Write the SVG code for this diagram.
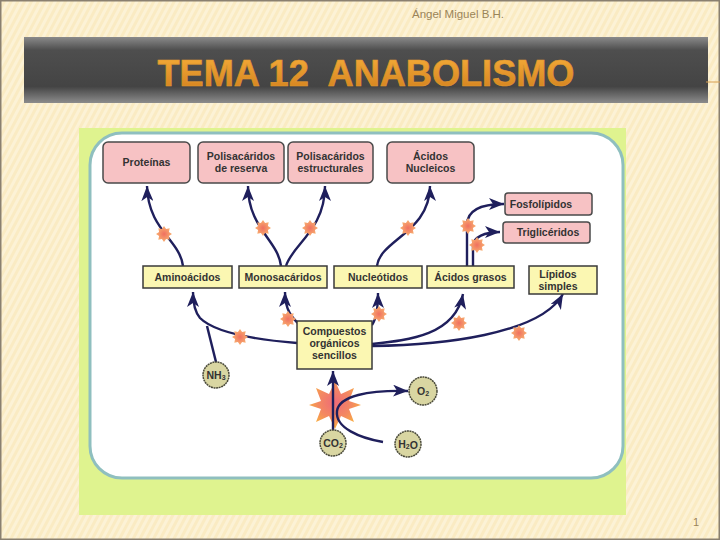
<svg xmlns="http://www.w3.org/2000/svg" width="720" height="540" viewBox="0 0 720 540">
<defs>
<pattern id="stripes" width="6" height="10" patternUnits="userSpaceOnUse" patternTransform="rotate(28)">
<rect width="6" height="10" fill="#faebc3"/>
<rect width="3" height="10" fill="#fcf2d6"/>
</pattern>
<linearGradient id="bar" x1="0" y1="0" x2="0" y2="1">
<stop offset="0" stop-color="#8a8a8a"/>
<stop offset="0.2" stop-color="#4e4e4e"/>
<stop offset="0.75" stop-color="#444"/>
<stop offset="1" stop-color="#8c8c8c"/>
</linearGradient>
<linearGradient id="titleg" x1="0" y1="0" x2="0" y2="1">
<stop offset="0" stop-color="#f7ae3a"/>
<stop offset="1" stop-color="#d07e1c"/>
</linearGradient>
<radialGradient id="bigstar" cx="0.5" cy="0.45" r="0.55">
<stop offset="0" stop-color="#ee6a78"/>
<stop offset="0.6" stop-color="#f48a60"/>
<stop offset="1" stop-color="#f8b040"/>
</radialGradient>
<radialGradient id="smstar" cx="0.5" cy="0.5" r="0.5">
<stop offset="0" stop-color="#f07060"/>
<stop offset="1" stop-color="#f8b070"/>
</radialGradient>
<polygon id="star" points="0,-8 2.1,-4.9 5.7,-5.7 4.9,-2.1 8,0 4.9,2.1 5.7,5.7 2.1,4.9 0,8 -2.1,4.9 -5.7,5.7 -4.9,2.1 -8,0 -4.9,-2.1 -5.7,-5.7 -2.1,-4.9" fill="url(#smstar)"/>
<marker id="ah" markerUnits="userSpaceOnUse" markerWidth="16" markerHeight="12" viewBox="0 0 16 12" refX="15" refY="6" orient="auto">
<path d="M0,0 L15,6 L0,12 L4,6 z" fill="#1f1f5c"/>
</marker>
</defs>
<style>
.pink{fill:#f7c2c4;stroke:#4a4a4a;stroke-width:1.5}
.yel{fill:#fbf7b2;stroke:#3a3a3a;stroke-width:1.5}
.circ{fill:#d9d6a2;stroke:#4a4a3a;stroke-width:1.5;stroke-dasharray:2 0.6}
.lbl{font-family:"Liberation Sans",Arial,sans-serif;font-weight:bold;font-size:10.5px;fill:#333;text-anchor:middle}
.con{fill:none;stroke:#1f1f5c;stroke-width:2.4}
.arr{marker-end:url(#ah)}
</style>
<rect width="720" height="540" fill="url(#stripes)"/>
<rect x="0.75" y="0.75" width="718.5" height="538.5" fill="none" stroke="#8a8070" stroke-width="1.5"/>
<text x="458" y="18" font-family="Liberation Sans, Arial, sans-serif" font-size="11.5" fill="#9a8458" text-anchor="middle">Ángel Miguel B.H.</text>
<rect x="24" y="37" width="684" height="66" fill="url(#bar)"/>
<line x1="706" y1="82" x2="720" y2="82" stroke="#d8a050" stroke-width="1"/>
<text x="366" y="86" font-family="Liberation Sans, Arial, sans-serif" font-weight="bold" font-size="37" fill="url(#titleg)" stroke="#e09a30" stroke-width="0.6" text-anchor="middle" textLength="417" lengthAdjust="spacingAndGlyphs" xml:space="preserve">TEMA 12  ANABOLISMO</text>
<text x="696" y="526" font-family="Liberation Sans, Arial, sans-serif" font-size="11" fill="#9a8458" text-anchor="middle">1</text>
<rect x="79" y="128" width="547" height="387" fill="#dff38f"/>
<rect x="90" y="133" width="533" height="345" rx="32" ry="32" fill="#ffffff" stroke="#8fbfbf" stroke-width="3"/>
<g id="connectors">
<path class="con arr" d="M183,266 C180,240 148,230 147,186"/>
<path class="con arr" d="M281,266 C278,240 248,228 248,186"/>
<path class="con arr" d="M286,266 C292,245 325,230 325,186"/>
<path class="con arr" d="M377,266 C380,240 430,232 430,186"/>
<path class="con arr" d="M467,266 L467,225 C467,210 480,204 504,204"/>
<path class="con arr" d="M473,266 L473,246 C473,237 485,232 500,232"/>
<path class="con arr" d="M297,343 C260,340 215,333 200,318 C195,312 193,305 193,292"/>
<path class="con" d="M216,362 L207,326"/>
<path class="con arr" d="M300,325 C292,318 285,310 285,292"/>
<path class="con arr" d="M372,325 C377,318 378,306 378,293"/>
<path class="con arr" d="M372,344 C410,340 455,335 463,294"/>
<path class="con arr" d="M372,346 C440,345 540,335 563,294"/>
<use href="#star" x="164" y="234"/>
<use href="#star" x="263" y="228"/>
<use href="#star" x="310" y="228"/>
<use href="#star" x="408" y="228"/>
<use href="#star" x="468" y="226"/>
<use href="#star" x="477" y="245"/>
<use href="#star" x="240" y="337"/>
<use href="#star" x="288" y="319"/>
<use href="#star" x="379" y="314"/>
<use href="#star" x="459" y="323"/>
<use href="#star" x="519" y="333"/>
<polygon points="335,381 341,394 354,388 349,401 361,405 349,409 354,422 341,416 335,429 329,416 316,422 321,409 309,405 321,401 316,388 329,394" fill="url(#bigstar)"/>
<path class="con arr" d="M333,430 L333,371"/>
<path class="con arr" d="M383,442 C360,438 335,428 337,411 C339,396 368,390 408,391"/>
</g>
<g id="proteinas"><rect class="pink" x="103" y="142" width="87" height="41" rx="5"/><text class="lbl" x="146.5" y="166">Proteínas</text></g>
<g id="polres"><rect class="pink" x="198" y="142" width="86" height="41" rx="5"/><text class="lbl" x="241" y="160">Polisacáridos</text><text class="lbl" x="241" y="172">de reserva</text></g>
<g id="polest"><rect class="pink" x="288" y="142" width="85" height="41" rx="5"/><text class="lbl" x="330.5" y="160">Polisacáridos</text><text class="lbl" x="330.5" y="172">estructurales</text></g>
<g id="acnuc"><rect class="pink" x="387" y="142" width="87" height="41" rx="5"/><text class="lbl" x="430.5" y="160">Ácidos</text><text class="lbl" x="430.5" y="172">Nucleicos</text></g>
<g id="fosfo"><rect class="pink" x="505" y="193" width="87" height="22" rx="3"/><text class="lbl" x="541" y="208">Fosfolípidos</text></g>
<g id="trigli"><rect class="pink" x="503" y="222" width="87" height="21" rx="3"/><text class="lbl" x="548" y="236">Triglicéridos</text></g>
<g id="amino"><rect class="yel" x="143" y="266" width="89" height="22"/><text class="lbl" x="187.5" y="281">Aminoácidos</text></g>
<g id="mono"><rect class="yel" x="239" y="266" width="88" height="22"/><text class="lbl" x="283" y="281">Monosacáridos</text></g>
<g id="nucleo"><rect class="yel" x="334" y="266" width="88" height="22"/><text class="lbl" x="378" y="281">Nucleótidos</text></g>
<g id="acgrasos"><rect class="yel" x="427" y="266" width="87" height="22"/><text class="lbl" x="470.5" y="281">Ácidos grasos</text></g>
<g id="lipidos"><rect class="yel" x="529" y="266" width="68" height="28"/><text class="lbl" x="558" y="278">Lípidos</text><text class="lbl" x="558" y="290">simples</text></g>
<g id="compuestos"><rect class="yel" x="297" y="321" width="75" height="48"/><text class="lbl" x="334.5" y="335">Compuestos</text><text class="lbl" x="334.5" y="347">orgánicos</text><text class="lbl" x="334.5" y="359">sencillos</text></g>
<g id="nh3"><circle class="circ" cx="216" cy="375" r="13"/><text class="lbl" x="216" y="379" font-size="9.5">NH<tspan font-size="7" dy="1">3</tspan></text></g>
<g id="co2"><circle class="circ" cx="333" cy="443" r="13"/><text class="lbl" x="333" y="447" font-size="9.5">CO<tspan font-size="7" dy="1">2</tspan></text></g>
<g id="o2"><circle class="circ" cx="423" cy="391" r="14"/><text class="lbl" x="423" y="395" font-size="9.5">O<tspan font-size="7" dy="1">2</tspan></text></g>
<g id="h2o"><circle class="circ" cx="408" cy="444" r="13"/><text class="lbl" x="408" y="448" font-size="9.5">H<tspan font-size="7" dy="1">2</tspan>O</text></g>
</svg>
